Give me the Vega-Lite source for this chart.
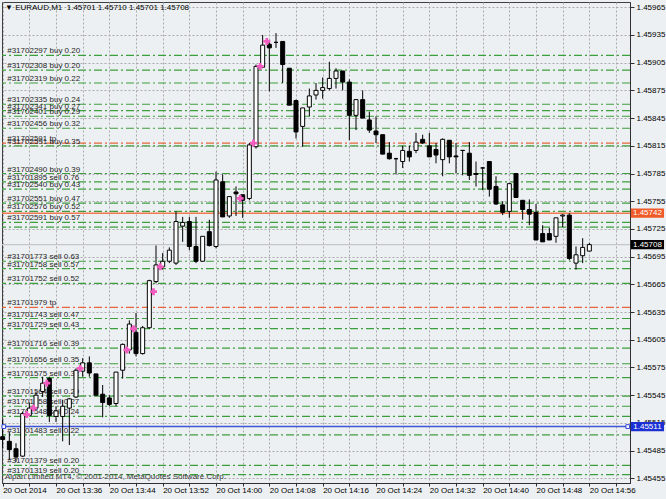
{
  "$schema": "https://vega.github.io/schema/vega-lite/v6.json",
  "width": 628,
  "height": 481,
  "autosize": {"type": "none"},
  "padding": {"left": 2, "top": 2, "right": 36, "bottom": 16},
  "background": "#edf0f2",
  "title": {
    "text": "▼ EURAUD,M1\u00a0\u00a01.45701 1.45710 1.45701 1.45708",
    "anchor": "start", "frame": "group", "orient": "top", "offset": -10, "dx": 3,
    "fontSize": 8, "font": "Liberation Sans", "fontWeight": "normal", "color": "#000000"
  },
  "datasets": {
    "candles": [
      {"t":"2014-10-20T13:28","o":1.45500,"h":1.45518,"l":1.45488,"c":1.45497},
      {"t":"2014-10-20T13:29","o":1.45495,"h":1.45505,"l":1.45475,"c":1.45486},
      {"t":"2014-10-20T13:30","o":1.45487,"h":1.45493,"l":1.45473,"c":1.45478},
      {"t":"2014-10-20T13:31","o":1.45479,"h":1.45527,"l":1.45478,"c":1.45525},
      {"t":"2014-10-20T13:32","o":1.45523,"h":1.45537,"l":1.45522,"c":1.45531},
      {"t":"2014-10-20T13:33","o":1.45531,"h":1.45549,"l":1.45529,"c":1.45545},
      {"t":"2014-10-20T13:34","o":1.45549,"h":1.45565,"l":1.45543,"c":1.45558},
      {"t":"2014-10-20T13:35","o":1.45563,"h":1.45565,"l":1.45516,"c":1.45523},
      {"t":"2014-10-20T13:36","o":1.45522,"h":1.45533,"l":1.45516,"c":1.45528},
      {"t":"2014-10-20T13:37","o":1.45522,"h":1.45540,"l":1.45495,"c":1.45533},
      {"t":"2014-10-20T13:38","o":1.45531,"h":1.45542,"l":1.45491,"c":1.45541},
      {"t":"2014-10-20T13:39","o":1.45543,"h":1.45574,"l":1.45542,"c":1.45572},
      {"t":"2014-10-20T13:40","o":1.45571,"h":1.45585,"l":1.45565,"c":1.45580},
      {"t":"2014-10-20T13:41","o":1.45580,"h":1.45587,"l":1.45565,"c":1.45569},
      {"t":"2014-10-20T13:42","o":1.45568,"h":1.45568,"l":1.45544,"c":1.45545},
      {"t":"2014-10-20T13:43","o":1.45546,"h":1.45556,"l":1.45521,"c":1.45537},
      {"t":"2014-10-20T13:44","o":1.45542,"h":1.45545,"l":1.45533,"c":1.45535},
      {"t":"2014-10-20T13:45","o":1.45536,"h":1.45570,"l":1.45533,"c":1.45570},
      {"t":"2014-10-20T13:46","o":1.45572,"h":1.45601,"l":1.45563,"c":1.45600},
      {"t":"2014-10-20T13:47","o":1.45594,"h":1.45626,"l":1.45590,"c":1.45622},
      {"t":"2014-10-20T13:48","o":1.45613,"h":1.45634,"l":1.45587,"c":1.45590},
      {"t":"2014-10-20T13:49","o":1.45590,"h":1.45620,"l":1.45589,"c":1.45618},
      {"t":"2014-10-20T13:50","o":1.45618,"h":1.45670,"l":1.45617,"c":1.45669},
      {"t":"2014-10-20T13:51","o":1.45668,"h":1.45707,"l":1.45666,"c":1.45686},
      {"t":"2014-10-20T13:52","o":1.45684,"h":1.45699,"l":1.45681,"c":1.45690},
      {"t":"2014-10-20T13:53","o":1.45690,"h":1.45705,"l":1.45688,"c":1.45702},
      {"t":"2014-10-20T13:54","o":1.45688,"h":1.45744,"l":1.45686,"c":1.45733},
      {"t":"2014-10-20T13:55","o":1.45728,"h":1.45738,"l":1.45711,"c":1.45732},
      {"t":"2014-10-20T13:56","o":1.45733,"h":1.45738,"l":1.45702,"c":1.45706},
      {"t":"2014-10-20T13:57","o":1.45706,"h":1.45738,"l":1.45688,"c":1.45690},
      {"t":"2014-10-20T13:58","o":1.45690,"h":1.45717,"l":1.45690,"c":1.45717},
      {"t":"2014-10-20T13:59","o":1.45722,"h":1.45735,"l":1.45706,"c":1.45707},
      {"t":"2014-10-20T14:00","o":1.45706,"h":1.45787,"l":1.45704,"c":1.45778},
      {"t":"2014-10-20T14:01","o":1.45776,"h":1.45784,"l":1.45738,"c":1.45738},
      {"t":"2014-10-20T14:02","o":1.45739,"h":1.45760,"l":1.45737,"c":1.45760},
      {"t":"2014-10-20T14:03","o":1.45765,"h":1.45771,"l":1.45739,"c":1.45763},
      {"t":"2014-10-20T14:04","o":1.45762,"h":1.45762,"l":1.45737,"c":1.45756},
      {"t":"2014-10-20T14:05","o":1.45758,"h":1.45818,"l":1.45756,"c":1.45816},
      {"t":"2014-10-20T14:06","o":1.45814,"h":1.45903,"l":1.45812,"c":1.45901},
      {"t":"2014-10-20T14:07","o":1.45900,"h":1.45935,"l":1.45899,"c":1.45924},
      {"t":"2014-10-20T14:08","o":1.45925,"h":1.45928,"l":1.45874,"c":1.45921},
      {"t":"2014-10-20T14:09","o":1.45927,"h":1.45937,"l":1.45921,"c":1.45927},
      {"t":"2014-10-20T14:10","o":1.45928,"h":1.45928,"l":1.45883,"c":1.45903},
      {"t":"2014-10-20T14:11","o":1.45899,"h":1.45899,"l":1.45859,"c":1.45859},
      {"t":"2014-10-20T14:12","o":1.45864,"h":1.45865,"l":1.45823,"c":1.45830},
      {"t":"2014-10-20T14:13","o":1.45836,"h":1.45856,"l":1.45814,"c":1.45856},
      {"t":"2014-10-20T14:14","o":1.45857,"h":1.45877,"l":1.45847,"c":1.45869},
      {"t":"2014-10-20T14:15","o":1.45870,"h":1.45883,"l":1.45865,"c":1.45875},
      {"t":"2014-10-20T14:16","o":1.45875,"h":1.45889,"l":1.45866,"c":1.45878},
      {"t":"2014-10-20T14:17","o":1.45877,"h":1.45906,"l":1.45875,"c":1.45888},
      {"t":"2014-10-20T14:18","o":1.45888,"h":1.45899,"l":1.45877,"c":1.45896},
      {"t":"2014-10-20T14:19","o":1.45896,"h":1.45896,"l":1.45875,"c":1.45884},
      {"t":"2014-10-20T14:20","o":1.45884,"h":1.45887,"l":1.45821,"c":1.45848},
      {"t":"2014-10-20T14:21","o":1.45848,"h":1.45865,"l":1.45832,"c":1.45865},
      {"t":"2014-10-20T14:22","o":1.45865,"h":1.45875,"l":1.45845,"c":1.45845},
      {"t":"2014-10-20T14:23","o":1.45843,"h":1.45852,"l":1.45829,"c":1.45832},
      {"t":"2014-10-20T14:24","o":1.45831,"h":1.45847,"l":1.45818,"c":1.45827},
      {"t":"2014-10-20T14:25","o":1.45827,"h":1.45827,"l":1.45806,"c":1.45806},
      {"t":"2014-10-20T14:26","o":1.45807,"h":1.45819,"l":1.45800,"c":1.45801},
      {"t":"2014-10-20T14:27","o":1.45801,"h":1.45802,"l":1.45784,"c":1.45801},
      {"t":"2014-10-20T14:28","o":1.45798,"h":1.45815,"l":1.45791,"c":1.45810},
      {"t":"2014-10-20T14:29","o":1.45809,"h":1.45815,"l":1.45798,"c":1.45803},
      {"t":"2014-10-20T14:30","o":1.45810,"h":1.45829,"l":1.45807,"c":1.45819},
      {"t":"2014-10-20T14:31","o":1.45822,"h":1.45827,"l":1.45817,"c":1.45818},
      {"t":"2014-10-20T14:32","o":1.45815,"h":1.45829,"l":1.45803,"c":1.45803},
      {"t":"2014-10-20T14:33","o":1.45811,"h":1.45818,"l":1.45796,"c":1.45805},
      {"t":"2014-10-20T14:34","o":1.45800,"h":1.45823,"l":1.45782,"c":1.45822},
      {"t":"2014-10-20T14:35","o":1.45821,"h":1.45821,"l":1.45796,"c":1.45803},
      {"t":"2014-10-20T14:36","o":1.45804,"h":1.45818,"l":1.45785,"c":1.45803},
      {"t":"2014-10-20T14:37","o":1.45810,"h":1.45810,"l":1.45783,"c":1.45810},
      {"t":"2014-10-20T14:38","o":1.45807,"h":1.45819,"l":1.45778,"c":1.45783},
      {"t":"2014-10-20T14:39","o":1.45785,"h":1.45798,"l":1.45771,"c":1.45784},
      {"t":"2014-10-20T14:40","o":1.45791,"h":1.45792,"l":1.45767,"c":1.45791},
      {"t":"2014-10-20T14:41","o":1.45798,"h":1.45798,"l":1.45760,"c":1.45768},
      {"t":"2014-10-20T14:42","o":1.45771,"h":1.45782,"l":1.45751,"c":1.45752},
      {"t":"2014-10-20T14:43","o":1.45751,"h":1.45755,"l":1.45740,"c":1.45743},
      {"t":"2014-10-20T14:44","o":1.45744,"h":1.45775,"l":1.45737,"c":1.45774},
      {"t":"2014-10-20T14:45","o":1.45785,"h":1.45785,"l":1.45759,"c":1.45759},
      {"t":"2014-10-20T14:46","o":1.45756,"h":1.45756,"l":1.45735,"c":1.45746},
      {"t":"2014-10-20T14:47","o":1.45746,"h":1.45757,"l":1.45729,"c":1.45741},
      {"t":"2014-10-20T14:48","o":1.45743,"h":1.45752,"l":1.45713,"c":1.45713},
      {"t":"2014-10-20T14:49","o":1.45720,"h":1.45729,"l":1.45711,"c":1.45711},
      {"t":"2014-10-20T14:50","o":1.45720,"h":1.45726,"l":1.45713,"c":1.45713},
      {"t":"2014-10-20T14:51","o":1.45717,"h":1.45737,"l":1.45710,"c":1.45737},
      {"t":"2014-10-20T14:52","o":1.45739,"h":1.45741,"l":1.45727,"c":1.45740},
      {"t":"2014-10-20T14:53","o":1.45740,"h":1.45742,"l":1.45691,"c":1.45693},
      {"t":"2014-10-20T14:54","o":1.45688,"h":1.45706,"l":1.45681,"c":1.45697},
      {"t":"2014-10-20T14:55","o":1.45696,"h":1.45715,"l":1.45688,"c":1.45705},
      {"t":"2014-10-20T14:56","o":1.45701,"h":1.45710,"l":1.45701,"c":1.45708}
    ],
    "orders": [
      {"p":1.45913,"kind":"order","label":"#31702297 buy 0.20"},
      {"p":1.45897,"kind":"order","label":"#31702308 buy 0.20"},
      {"p":1.45883,"kind":"order","label":"#31702319 buy 0.22"},
      {"p":1.45860,"kind":"order","label":"#31702335 buy 0.24"},
      {"p":1.45853,"kind":"order","label":"#31702341 buy 0.27"},
      {"p":1.45847,"kind":"order","label":"#31702401 buy 0.29"},
      {"p":1.45834,"kind":"order","label":"#31702456 buy 0.32"},
      {"p":1.45815,"kind":"order","label":"#31702591 buy 0.35"},
      {"p":1.45818,"kind":"tp","label":"#31702591 tp"},
      {"p":1.45785,"kind":"order","label":"#31702490 buy 0.39"},
      {"p":1.45776,"kind":"order","label":"#31701895 sell 0.76"},
      {"p":1.45768,"kind":"order","label":"#31702540 buy 0.43"},
      {"p":1.45753,"kind":"order","label":"#31702551 buy 0.47"},
      {"p":1.45744,"kind":"order","label":"#31702576 buy 0.52"},
      {"p":1.45727,"kind":"order","label":""},
      {"p":1.45732,"kind":"order","label":"#31702591 buy 0.57"},
      {"p":1.45690,"kind":"order","label":"#31701773 sell 0.63"},
      {"p":1.45682,"kind":"order","label":"#31701758 sell 0.57"},
      {"p":1.45666,"kind":"order","label":"#31701752 sell 0.52"},
      {"p":1.45640,"kind":"tp","label":"#31701979 tp"},
      {"p":1.45628,"kind":"order","label":"#31701743 sell 0.47"},
      {"p":1.45617,"kind":"order","label":"#31701729 sell 0.43"},
      {"p":1.45596,"kind":"order","label":"#31701716 sell 0.39"},
      {"p":1.45579,"kind":"order","label":"#31701656 sell 0.35"},
      {"p":1.45564,"kind":"order","label":"#31701575 sell 0.32"},
      {"p":1.45544,"kind":"order","label":"#31701564 sell 0.29"},
      {"p":1.45533,"kind":"order","label":"#31701558 sell 0.27"},
      {"p":1.45522,"kind":"order","label":"#31701548 sell 0.24"},
      {"p":1.45502,"kind":"order","label":"#31701483 sell 0.22"},
      {"p":1.45469,"kind":"order","label":"#31701379 sell 0.20"},
      {"p":1.45459,"kind":"order","label":"#31701319 sell 0.20"}
    ],
    "levels": [
      {"p":1.45708,"kind":"bid","label":"1.45708"},
      {"p":1.45742,"kind":"alert","label":"1.45742"},
      {"p":1.45511,"kind":"line","label":"1.45511"}
    ],
    "stars": [
      {"t":"2014-10-20T13:32","p":1.45524},
      {"t":"2014-10-20T13:33","p":1.45531},
      {"t":"2014-10-20T13:35","p":1.45558},
      {"t":"2014-10-20T13:40","p":1.45574},
      {"t":"2014-10-20T13:47","p":1.45594},
      {"t":"2014-10-20T13:48","p":1.45617},
      {"t":"2014-10-20T13:51","p":1.45657},
      {"t":"2014-10-20T13:52","p":1.45684},
      {"t":"2014-10-20T14:04","p":1.45758},
      {"t":"2014-10-20T14:06","p":1.45818},
      {"t":"2014-10-20T14:07","p":1.45901},
      {"t":"2014-10-20T14:08","p":1.45928}
    ],
    "anchors": [
      {"t":"2014-10-20T13:28:10","p":1.45511},
      {"t":"2014-10-20T15:01:46","p":1.45511}
    ],
    "notes": [
      {"text":"Alpari Limited MT4, © 2001-2014, MetaQuotes Software Corp."}
    ]
  },
  "layer": [
    {
      "data": {"name": "orders"},
      "mark": {"type": "rule", "strokeDash": [8, 3, 2, 3], "strokeWidth": 1.2},
      "encoding": {
        "y": {"field": "p", "type": "quantitative",
              "scale": {"domain": [1.454499, 1.459707], "zero": false, "nice": false, "padding": 0},
              "axis": {"orient": "right", "title": null, "format": ".5f", "tickCount": 500,
                       "values": [1.45455,1.45485,1.45515,1.45545,1.45575,1.45605,1.45635,1.45665,1.45695,1.45725,1.45755,1.45785,1.45815,1.45845,1.45875,1.45905,1.45935,1.45965],
                       "grid": true, "gridDash": [2, 2], "gridColor": "#a9abad", "gridWidth": 1,
                       "tickSize": 4, "labelPadding": 2, "labelFontSize": 8, "labelFont": "Liberation Sans",
                       "labelColor": "#000000", "labelOverlap": false, "labelFlush": false, "labelSeparation": 0,
                       "domainColor": "#303030", "tickColor": "#303030"}},
        "stroke": {"field": "kind", "type": "nominal",
                   "scale": {"domain": ["order","tp","alert","bid","line"], "range": ["#3c9e3c","#e8643c","#f2784f","#c4c6c8","#4055d8"]},
                   "legend": null}
      }
    },
    {
      "data": {"name": "levels"},
      "mark": {"type": "rule", "strokeWidth": 1.4},
      "encoding": {
        "y": {"field": "p", "type": "quantitative"},
        "stroke": {"field": "kind", "type": "nominal", "legend": null}
      }
    },
    {
      "data": {"name": "orders"},
      "mark": {"type": "text", "align": "left", "baseline": "alphabetic", "dy": -2, "fontSize": 8, "font": "Liberation Sans", "color": "#262626"},
      "encoding": {
        "x": {"datum": {"year": 2014, "month": 10, "date": 20, "hours": 13, "minutes": 28, "seconds": 41}, "type": "temporal"},
        "y": {"field": "p", "type": "quantitative"},
        "text": {"field": "label"}
      }
    },
    {
      "data": {"name": "notes"},
      "mark": {"type": "text", "align": "left", "baseline": "bottom", "fontSize": 8, "font": "Liberation Sans", "color": "#3a3a3a"},
      "encoding": {
        "x": {"datum": {"year": 2014, "month": 10, "date": 20, "hours": 13, "minutes": 28, "seconds": 20}, "type": "temporal"},
        "y": {"datum": 1.45452, "type": "quantitative"},
        "text": {"field": "text"}
      }
    },
    {
      "data": {"name": "candles"},
      "mark": {"type": "rule", "color": "#000000", "strokeWidth": 1},
      "encoding": {
        "x": {"field": "t", "type": "temporal",
              "scale": {"domain": [{"year": 2014, "month": 10, "date": 20, "hours": 13, "minutes": 27, "seconds": 54}, {"year": 2014, "month": 10, "date": 20, "hours": 15, "minutes": 2, "seconds": 6}], "padding": 0, "nice": false},
              "axis": {"title": null, "orient": "bottom", "tickCount": 500,
                       "values": [
                         {"year":2014,"month":10,"date":20,"hours":13,"minutes":28},
                         {"year":2014,"month":10,"date":20,"hours":13,"minutes":32},
                         {"year":2014,"month":10,"date":20,"hours":13,"minutes":36},
                         {"year":2014,"month":10,"date":20,"hours":13,"minutes":40},
                         {"year":2014,"month":10,"date":20,"hours":13,"minutes":44},
                         {"year":2014,"month":10,"date":20,"hours":13,"minutes":48},
                         {"year":2014,"month":10,"date":20,"hours":13,"minutes":52},
                         {"year":2014,"month":10,"date":20,"hours":13,"minutes":56},
                         {"year":2014,"month":10,"date":20,"hours":14,"minutes":0},
                         {"year":2014,"month":10,"date":20,"hours":14,"minutes":4},
                         {"year":2014,"month":10,"date":20,"hours":14,"minutes":8},
                         {"year":2014,"month":10,"date":20,"hours":14,"minutes":12},
                         {"year":2014,"month":10,"date":20,"hours":14,"minutes":16},
                         {"year":2014,"month":10,"date":20,"hours":14,"minutes":20},
                         {"year":2014,"month":10,"date":20,"hours":14,"minutes":24},
                         {"year":2014,"month":10,"date":20,"hours":14,"minutes":28},
                         {"year":2014,"month":10,"date":20,"hours":14,"minutes":32},
                         {"year":2014,"month":10,"date":20,"hours":14,"minutes":36},
                         {"year":2014,"month":10,"date":20,"hours":14,"minutes":40},
                         {"year":2014,"month":10,"date":20,"hours":14,"minutes":44},
                         {"year":2014,"month":10,"date":20,"hours":14,"minutes":48},
                         {"year":2014,"month":10,"date":20,"hours":14,"minutes":52},
                         {"year":2014,"month":10,"date":20,"hours":14,"minutes":56},
                         {"year":2014,"month":10,"date":20,"hours":15,"minutes":0}
                       ],
                       "labelExpr": "((hours(datum.value)*60+minutes(datum.value)-808)%8==0) ? ((hours(datum.value)==13 && minutes(datum.value)==28) ? '20 Oct 2014' : timeFormat(datum.value,'%d %b %H:%M')) : ''",
                       "grid": true, "gridDash": [2, 2], "gridColor": "#a9abad", "gridWidth": 1,
                       "tickSize": 3, "labelPadding": 0, "labelAlign": "left", "labelBaseline": "top",
                       "labelFontSize": 8, "labelFont": "Liberation Sans", "labelColor": "#000000",
                       "labelOverlap": false, "labelFlush": false,
                       "domainColor": "#303030", "tickColor": "#303030"}},
        "y": {"field": "l", "type": "quantitative"},
        "y2": {"field": "h"}
      }
    },
    {
      "data": {"name": "candles"},
      "mark": {"type": "bar", "width": 4, "stroke": "#000000", "strokeWidth": 1},
      "encoding": {
        "x": {"field": "t", "type": "temporal"},
        "y": {"field": "o", "type": "quantitative"},
        "y2": {"field": "c"},
        "fill": {"condition": {"test": "datum.c >= datum.o", "value": "#ffffff"}, "value": "#000000"}
      }
    },
    {
      "data": {"name": "stars"},
      "mark": {"type": "point", "shape": "cross", "filled": true, "size": 48, "color": "#f25cc0", "opacity": 1, "xOffset": -2.5},
      "encoding": {
        "x": {"field": "t", "type": "temporal"},
        "y": {"field": "p", "type": "quantitative"}
      }
    },
    {
      "data": {"name": "anchors"},
      "mark": {"type": "point", "shape": "square", "filled": true, "size": 14, "fill": "#ffffff", "stroke": "#3040d0", "strokeWidth": 1, "opacity": 1},
      "encoding": {
        "x": {"field": "t", "type": "temporal"},
        "y": {"field": "p", "type": "quantitative"}
      }
    },
    {
      "data": {"name": "levels"},
      "mark": {"type": "point", "shape": "M-1,-0.28H1V0.28H-1Z", "filled": true, "size": 1100, "opacity": 1, "clip": false},
      "encoding": {
        "x": {"datum": {"year": 2014, "month": 10, "date": 20, "hours": 15, "minutes": 4, "seconds": 43}, "type": "temporal"},
        "y": {"field": "p", "type": "quantitative"},
        "fill": {"field": "kind", "type": "nominal", "scale": {"domain": ["alert","bid","line"], "range": ["#f05a28","#000000","#1c30d4"]}, "legend": null}
      }
    },
    {
      "data": {"name": "levels"},
      "mark": {"type": "text", "align": "center", "baseline": "middle", "fontSize": 8, "font": "Liberation Sans", "color": "#ffffff", "clip": false},
      "encoding": {
        "x": {"datum": {"year": 2014, "month": 10, "date": 20, "hours": 15, "minutes": 4, "seconds": 43}, "type": "temporal"},
        "y": {"field": "p", "type": "quantitative"},
        "text": {"field": "label"}
      }
    }
  ],
  "config": {
    "view": {"stroke": "#404040", "strokeWidth": 1, "fill": "#edf0f2"},
    "font": "Liberation Sans",
    "axis": {"labelOverlap": false},
    "axisY": {"labelOverlap": false},
    "axisRight": {"labelOverlap": false}
  }
}
